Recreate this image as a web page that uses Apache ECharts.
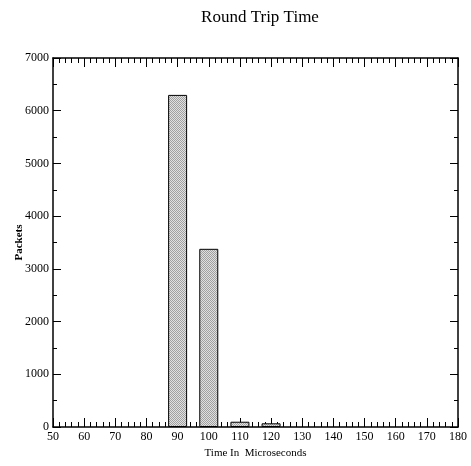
<!DOCTYPE html>
<html>
<head>
<meta charset="utf-8">
<script src="https://cdn.jsdelivr.net/npm/echarts@6/dist/echarts.min.js"></script>
<style>
html, body { margin: 0; padding: 0; background: #fff; }
#rttChart { width: 471px; height: 466px; }
</style>
</head>
<body>
<div id="rttChart"></div>
<script>
// bin centre (microseconds) and packet count
var binTimes = [90, 100, 110, 120];
var packetCounts = [6300, 3380, 100, 70];
var xTicks = [50, 180, 10];   // min, max, step
var yTicks = [0, 7000, 1000];

var font = '"Liberation Serif", "DejaVu Serif", serif';

var barData = [];
for (var i = 0; i < binTimes.length; i++) {
    barData.push([binTimes[i], packetCounts[i]]);
}

// small checkered tile for the bar fill
function makePattern() {
    var c = document.createElement('canvas');
    c.width = 2; c.height = 2;
    var ctx = c.getContext('2d');
    ctx.fillStyle = '#e0e0e0';
    ctx.fillRect(0, 0, 2, 2);
    ctx.fillStyle = '#a0a0a0';
    ctx.fillRect(0, 0, 1, 1);
    ctx.fillRect(1, 1, 1, 1);
    return c;
}

function xAxisOf(pos, labels) {
    return {
        type: 'value',
        position: pos,
        min: xTicks[0],
        max: xTicks[1],
        interval: xTicks[2],
        axisLine: { show: true, onZero: false, lineStyle: { color: '#000', width: 1.5 } },
        axisTick: { show: true, inside: true, length: 9, lineStyle: { color: '#000' } },
        minorTick: { show: true, splitNumber: 5, length: 5, lineStyle: { color: '#000' } },
        axisLabel: { show: labels, color: '#000', fontFamily: font, fontSize: 12, margin: 4 },
        splitLine: { show: false }
    };
}

function yAxisOf(pos, labels) {
    return {
        type: 'value',
        position: pos,
        min: yTicks[0],
        max: yTicks[1],
        interval: yTicks[2],
        axisLine: { show: true, lineStyle: { color: '#000', width: 1.5 } },
        axisTick: { show: true, inside: true, length: 8, lineStyle: { color: '#000' } },
        minorTick: { show: true, splitNumber: 2, length: 4, lineStyle: { color: '#000' } },
        axisLabel: {
            show: labels, color: '#000', fontFamily: font, fontSize: 12, margin: 4,
            formatter: function (v) { return String(v); }
        },
        splitLine: { show: false }
    };
}

var chart = echarts.init(document.getElementById('rttChart'));
var xBottom = xAxisOf('bottom', true);
xBottom.name = 'Time In  Microseconds';
xBottom.nameLocation = 'middle';
xBottom.nameGap = 21;
xBottom.nameMoveOverlap = false;
xBottom.nameTextStyle = { color: '#000', fontFamily: font, fontSize: 11 };

var yLeft = yAxisOf('left', true);
yLeft.name = 'Packets';
yLeft.nameLocation = 'middle';
yLeft.nameGap = 28;
yLeft.nameMoveOverlap = false;
yLeft.nameTextStyle = { color: '#000', fontFamily: font, fontSize: 11, fontWeight: 'bold' };

chart.setOption({
    animation: false,
    title: {
        text: 'Round Trip Time',
        left: 255,
        textAlign: 'center',
        top: 4,
        textStyle: { color: '#000', fontFamily: font, fontSize: 17, fontWeight: 'normal' }
    },
    grid: { left: 53, right: 13, top: 58, bottom: 39, containLabel: false, outerBoundsMode: 'none' },
    xAxis: [xBottom, xAxisOf('top', false)],
    yAxis: [yLeft, yAxisOf('right', false)],
    series: [
        {
            type: 'bar',
            xAxisIndex: 0,
            yAxisIndex: 0,
            barWidth: 19,
            data: barData,
            itemStyle: {
                color: { image: makePattern(), repeat: 'repeat' },
                borderColor: '#000',
                borderWidth: 1
            }
        }
    ]
});
</script>
</body>
</html>
